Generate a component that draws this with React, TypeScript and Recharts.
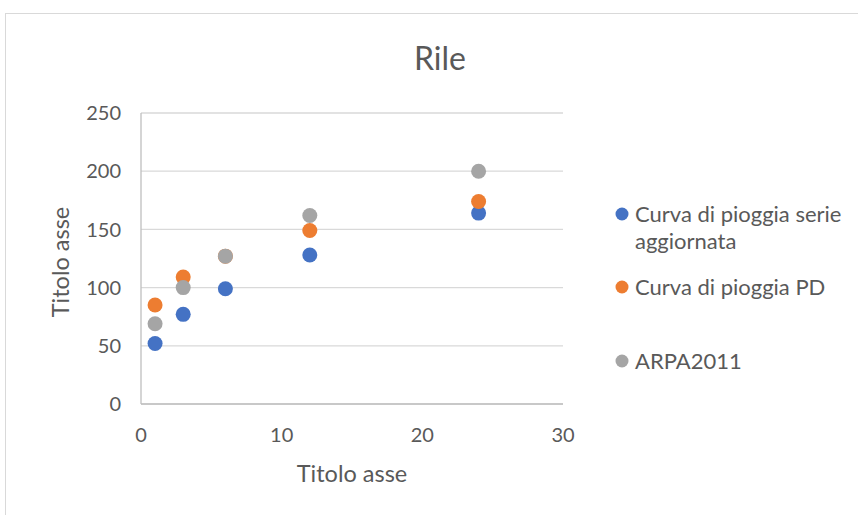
import React from 'react';
import { ScatterChart, Scatter, XAxis, YAxis, CartesianGrid, Legend } from 'recharts';

const xValues = [1, 3, 6, 12, 24];
const serieAggiornata = [52, 77, 99, 128, 164];
const curvaPD = [85, 109, 127, 149, 174];
const arpa2011 = [69, 100, 127, 162, 200];
const xTicks = [0, 10, 20, 30];
const yTicks = [0, 50, 100, 150, 200, 250];

const seriesNames = ['Curva di pioggia serie aggiornata', 'Curva di pioggia PD', 'ARPA2011'];
const seriesColors = ['#4472C4', '#ED7D31', '#A5A5A5'];
const seriesValues = [serieAggiornata, curvaPD, arpa2011];

const FONT = 'Lato, "Open Sans", sans-serif';
const TEXT = '#595959';

const toPoints = (ys: number[]) => xValues.map((x, i) => ({ x, y: ys[i] }));

const Dot = (color: string) => (props: any) => (
  <circle cx={props.cx} cy={props.cy} r={7.5} fill={color} />
);

const legendTops = [0, 73, 147];

const LegendContent = () => (
  <div style={{ position: 'relative', width: 240, height: 180, fontFamily: FONT, color: TEXT, fontSize: 22 }}>
    {seriesNames.map((name, i) => (
      <div key={name} style={{ position: 'absolute', left: 0, top: legendTops[i], display: 'flex', alignItems: 'flex-start' }}>
        <svg width={20} height={28} style={{ flex: 'none' }}>
          <circle cx={7} cy={14} r={6.5} fill={seriesColors[i]} />
        </svg>
        <div style={{ lineHeight: '27px', width: 215 }}>{name}</div>
      </div>
    ))}
  </div>
);

export default function App() {
  return (
    <div style={{ position: 'absolute', left: 0, top: 0, width: 858, height: 515, overflow: 'hidden', background: '#fff' }}>
      <div style={{ position: 'absolute', left: 5, top: 13, width: 900, height: 600, border: '1px solid #D9D9D9' }} />
      <div style={{ position: 'absolute', left: 0, top: 0 }}>
        <ScatterChart width={858} height={515} margin={{ top: 113, right: 295, bottom: 51, left: 80 }}>
          <CartesianGrid vertical={false} stroke="#D9D9D9" strokeWidth={1.3} />
          <XAxis
            type="number"
            dataKey="x"
            domain={[0, 30]}
            ticks={xTicks}
            height={60}
            tickLine={false}
            tickSize={0}
            tickMargin={24}
            axisLine={{ stroke: '#BFBFBF', strokeWidth: 1.3 }}
            tick={{ fill: TEXT, fontSize: 20, fontFamily: FONT }}
          />
          <YAxis
            type="number"
            dataKey="y"
            domain={[0, 250]}
            ticks={yTicks}
            width={61}
            tickLine={false}
            tickSize={0}
            tickMargin={20}
            axisLine={{ stroke: '#BFBFBF', strokeWidth: 1.3 }}
            tick={{ fill: TEXT, fontSize: 20, fontFamily: FONT }}
          />
          <Legend
            layout="vertical"
            align="center"
            verticalAlign="middle"
            content={LegendContent}
            wrapperStyle={{ left: 615, top: 200, width: 240 }}
          />
          {seriesValues.map((vals, i) => (
            <Scatter
              key={seriesNames[i]}
              name={seriesNames[i]}
              data={toPoints(vals)}
              fill={seriesColors[i]}
              shape={Dot(seriesColors[i])}
              isAnimationActive={false}
            />
          ))}
        </ScatterChart>
      </div>
      <div style={{ position: 'absolute', left: 340, top: 38, width: 200, textAlign: 'center', fontFamily: FONT, fontSize: 32, color: TEXT, lineHeight: '40px' }}>Rile</div>
      <div style={{ position: 'absolute', left: 252, top: 458, width: 200, textAlign: 'center', fontFamily: FONT, fontSize: 23.5, color: TEXT, lineHeight: '30px' }}>Titolo asse</div>
      <div style={{ position: 'absolute', left: -40, top: 247, width: 200, textAlign: 'center', fontFamily: FONT, fontSize: 23.5, color: TEXT, lineHeight: '30px', transform: 'rotate(-90deg)' }}>Titolo asse</div>
    </div>
  );
}
